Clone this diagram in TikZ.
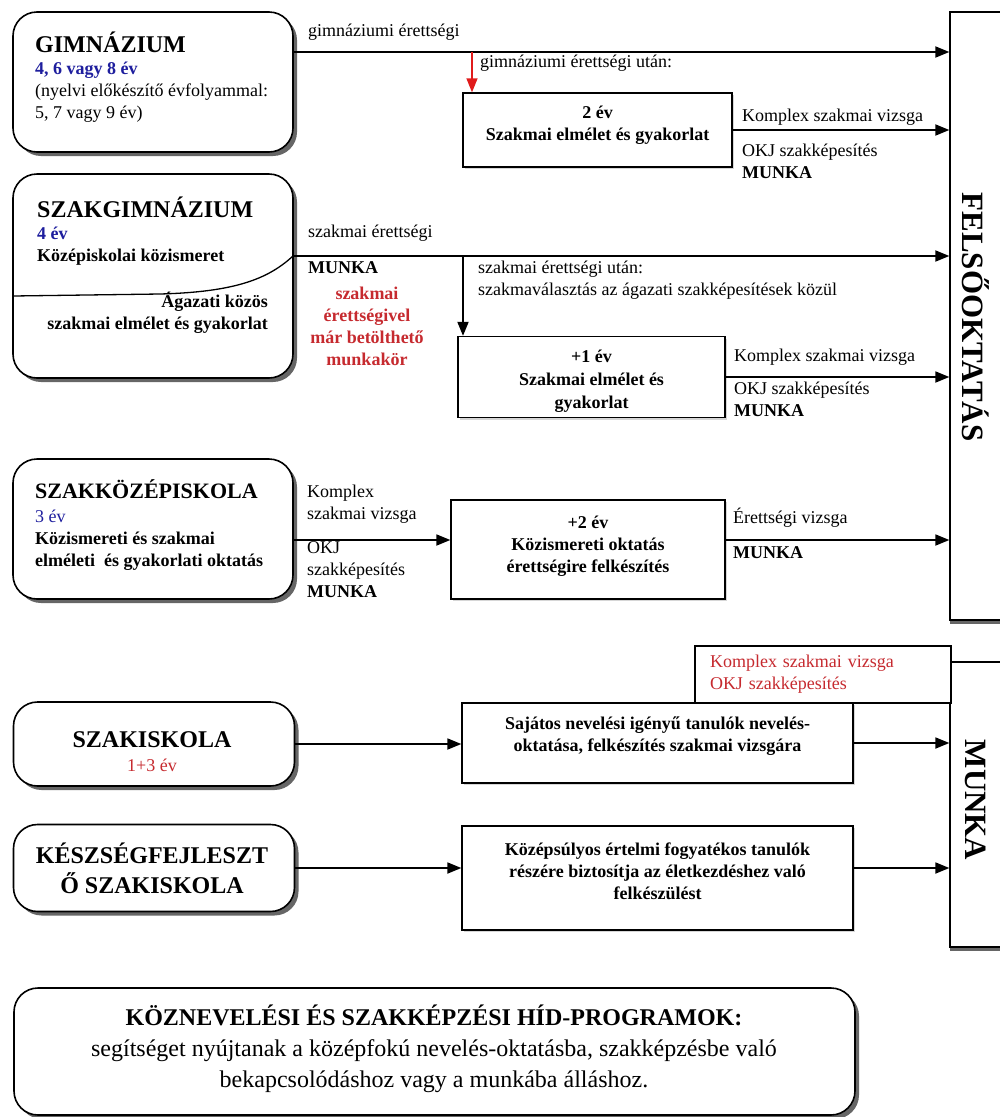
\documentclass[tikz,border=0pt]{standalone}
\usepackage{fontspec}
\setmainfont{Liberation Serif}
\usepackage{xcolor}
\usetikzlibrary{positioning, shadows, arrows.meta}

\definecolor{evblue}{HTML}{1E1E9E}
\definecolor{munkared}{HTML}{C62A2F}
\definecolor{arrred}{HTML}{E01B1B}

\tikzset{
  schoolbox/.style={draw, line width=1.6pt, rounded corners=24pt, fill=white,
    drop shadow={shadow xshift=4pt, shadow yshift=-4pt, fill=black!75, opacity=0.8}},
  stepbox/.style={draw, line width=1.3pt, fill=white,
    drop shadow={shadow xshift=2pt, shadow yshift=-2pt, fill=black!40, opacity=0.4}},
  endbox/.style={draw, line width=1.3pt, fill=white,
    drop shadow={shadow xshift=0pt, shadow yshift=-4pt, fill=black!75, opacity=0.8}},
  flowarr/.style={line width=1.8pt, -{Triangle[length=14pt, width=11pt]}},
  txt/.style={font=\fontsize{18}{22}\selectfont, inner sep=0pt, align=left},
  btxt/.style={txt, font=\fontsize{18}{22}\selectfont\bfseries},
  ttl/.style={font=\fontsize{24}{28}\selectfont\bfseries, inner sep=0pt},
  sidetxt/.style={font=\fontsize{31}{34}\selectfont\bfseries, rotate=-90, inner sep=0pt}
}

\begin{document}
\begin{tikzpicture}[x=1pt, y=-1pt]
        \clip (0,0) rectangle (1000,1117);

        % Right hand targets
        \node[endbox, minimum width=70pt, minimum height=608pt] (felso) at (985,316) {};
        \node[sidetxt] (felso-t) at (976,317) {FELSŐOKTATÁS};
        \node[endbox, minimum width=70pt, minimum height=285pt] (munka) at (985,804.5) {};
        \node[sidetxt] (munka-t) at (976,800) {MUNKA};

        % School types
        \node[schoolbox, minimum width=280pt, minimum height=140pt] (gim) at (153,82) {};
        \node[ttl, anchor=west] (gim-t) at (35,42) {GIMNÁZIUM};
        \node[txt, anchor=west] (gim-b) at (35,92) {{\color{evblue}\bfseries 4, 6 vagy 8 év}\\(nyelvi előkészítő évfolyammal:\\5, 7 vagy 9 év)};

        \node[schoolbox, minimum width=280pt, minimum height=204pt] (szakgim) at (153,276) {};
        \node[ttl, anchor=west] (szakgim-t) at (37,207) {SZAKGIMNÁZIUM};
        \node[btxt, anchor=west] (szakgim-b) at (37,246) {{\color{evblue}4 év}\\Középiskolai közismeret};
        \node[btxt, align=right, anchor=east] (szakgim-c) at (268,313) {Ágazati közös\\szakmai elmélet és gyakorlat};

        \node[schoolbox, minimum width=280pt, minimum height=140pt] (szakkoz) at (153,529) {};
        \node[ttl, font=\fontsize{22}{26}\selectfont\bfseries, anchor=west] (szakkoz-t) at (35,489) {SZAKKÖZÉPISKOLA};
        \node[btxt, anchor=west] (szakkoz-b) at (35,540) {{\color{evblue}\mdseries 3 év}\\Közismereti és szakmai\\elméleti\ \ és gyakorlati oktatás};

        \node[schoolbox, minimum width=281pt, minimum height=84pt] (szakisk) at (154,744) {};
        \node[ttl] (szakisk-t) at (152,740) {SZAKISKOLA};
        \node[txt, text=munkared] (szakisk-b) at (152,765) {1+3 év};

        \node[schoolbox, minimum width=281pt, minimum height=87pt] (keszseg) at (154,868) {};
        \node[ttl, align=center, font=\fontsize{24}{30}\selectfont\bfseries] (keszseg-t) at (152,868) {KÉSZSÉGFEJLESZT\\Ő SZAKISKOLA};

        \node[schoolbox, minimum width=841pt, minimum height=127pt] (hid) at (434.5,1051.5) {};
        \node[align=center, inner sep=0pt, font=\fontsize{24}{31}\selectfont] (hid-t) at (434,1049) {\textbf{KÖZNEVELÉSI ÉS SZAKKÉPZÉSI HÍD-PROGRAMOK:}\\segítséget nyújtanak a középfokú nevelés-oktatásba, szakképzésbe való\\bekapcsolódáshoz vagy a munkába álláshoz.};

        % Further training steps
        \node[stepbox, minimum width=269pt, minimum height=74pt] (ev2) at (597.5,130) {};
        \node[btxt, align=center] (ev2-t) at (597.5,125.5) {2 év\\Szakmai elmélet és gyakorlat};
        \node[stepbox, minimum width=267pt, minimum height=81pt] (plus1) at (591.5,377) {};
        \node[btxt, align=center, font=\fontsize{18}{23}\selectfont\bfseries] (plus1-t) at (591.5,381) {+1 év\\Szakmai elmélet és\\gyakorlat};
        \node[stepbox, minimum width=274pt, minimum height=99pt] (plus2) at (588,549.5) {};
        \node[btxt, align=center] (plus2-t) at (588,546) {+2 év\\Közismereti oktatás\\érettségire felkészítés};
        \node[draw, line width=1.3pt, fill=white, minimum width=256pt, minimum height=57pt, text width=226pt, align=left, text=munkared, font=\fontsize{18}{22}\selectfont] (okj) at (823,674.5) {Komplex szakmai vizsga\\OKJ szakképesítés};
        \node[stepbox, minimum width=391pt, minimum height=80pt] (sajatos) at (657.5,743) {};
        \node[btxt, align=center] (sajatos-t) at (657.5,736.5) {Sajátos nevelési igényű tanulók nevelés-\\oktatása, felkészítés szakmai vizsgára};
        \node[stepbox, minimum width=391pt, minimum height=104pt] (kozep) at (657.5,878) {};
        \node[btxt, align=center] (kozep-t) at (657.5,871) {Középsúlyos értelmi fogyatékos tanulók\\részére biztosítja az életkezdéshez való\\felkészülést};

        % Gimnázium paths
        \coordinate (g1) at (293,52);
        \coordinate (g2) at (472,52);
        \draw[flowarr] (g1) -- (g1 -| felso.west);
        \draw[flowarr, color=arrred, line width=1.3pt] (g2) -- (g2 |- ev2.north);
        \draw[flowarr] (ev2.east) -- (ev2.east -| felso.west);
        \node[txt, anchor=west] (gim-lbl) at (308,32) {gimnáziumi érettségi};
        \node[txt, anchor=west] (gim-utan) at (480,63) {gimnáziumi érettségi után:};
        \node[txt, anchor=west] (ev2-a) at (742,117) {Komplex szakmai vizsga};
        \node[txt, anchor=west] (ev2-b) at (742,161) {OKJ szakképesítés\\\textbf{MUNKA}};

        % Szakgimnázium paths
        \coordinate (sg1) at (293,256);
        \coordinate (sg2) at (463,256);
        \draw[line width=1.3pt] (sg1) .. controls (268,279) and (235,292) .. (160,294) -- (13,296); % dividing curve
        \draw[flowarr] (sg1) -- (sg1 -| felso.west);
        \draw[flowarr] (sg2) -- (sg2 |- plus1.north);
        \draw[flowarr] (plus1.east) -- (plus1.east -| felso.west);
        \node[txt, anchor=west] (sg-lbl) at (308,233) {szakmai érettségi};
        \node[btxt, anchor=west] (sg-munka) at (308,268) {MUNKA};
        \node[btxt, align=center, text=munkared] (sg-red) at (367,326) {szakmai\\érettségivel\\már betölthető\\munkakör};
        \node[txt, anchor=west] (sg-utan) at (478,280) {szakmai érettségi után:\\szakmaválasztás az ágazati szakképesítések közül};
        \node[txt, anchor=west] (plus1-a) at (734,357) {Komplex szakmai vizsga};
        \node[txt, anchor=west] (plus1-b) at (734,399) {OKJ szakképesítés\\\textbf{MUNKA}};

        % Szakközépiskola paths
        \coordinate (sk1) at (293,540);
        \draw[flowarr] (sk1) -- (sk1 -| plus2.west);
        \draw[flowarr] (plus2.east |- sk1) -- (sk1 -| felso.west);
        \node[txt, anchor=west] (sk-a) at (307,504) {Komplex\\szakmai vizsga};
        \node[txt, anchor=west] (sk-b) at (307,570) {OKJ\\szakképesítés\\\textbf{MUNKA}};
        \node[txt, anchor=west] (plus2-a) at (733,518) {Érettségi vizsga};
        \node[btxt, anchor=west] (plus2-b) at (733,553) {MUNKA};

        % Szakiskola paths
        \draw[flowarr] (szakisk.east) -- (szakisk.east -| sajatos.west);
        \draw[flowarr] (sajatos.east) -- (sajatos.east -| munka.west);
        \draw[flowarr] (keszseg.east) -- (keszseg.east -| kozep.west);
        \draw[flowarr] (kozep.east |- keszseg.east) -- (keszseg.east -| munka.west);
\end{tikzpicture}
\end{document}
